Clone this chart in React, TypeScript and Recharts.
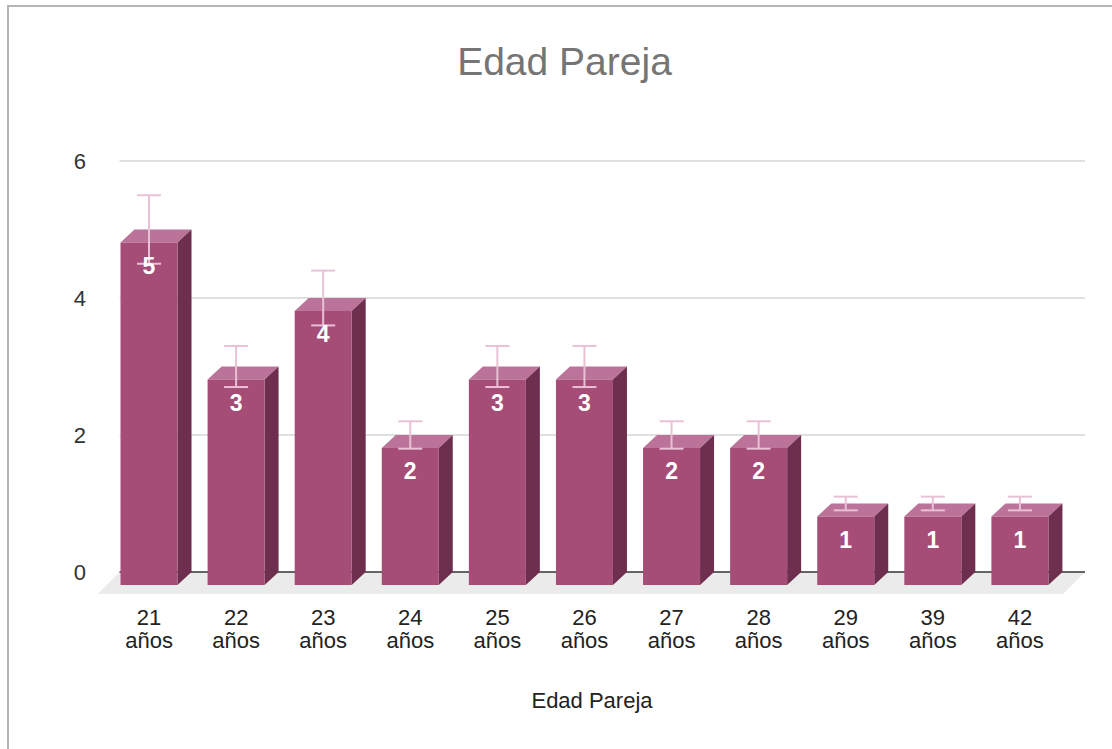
import { BarChart, Bar, XAxis, YAxis, CartesianGrid, LabelList } from "recharts";

const categories = [
  "21 años",
  "22 años",
  "23 años",
  "24 años",
  "25 años",
  "26 años",
  "27 años",
  "28 años",
  "29 años",
  "39 años",
  "42 años",
];
const counts = [5, 3, 4, 2, 3, 3, 2, 2, 1, 1, 1];
const yTicks = [0, 2, 4, 6];
const errorPercent = 10;

const data = categories.map((name, i) => ({ name, count: counts[i] }));

const FONT = "'Liberation Sans', Arial, sans-serif";
const DX = 14;
const DY = 13;
const FRONT = "#a54c77";
const TOP = "#bb7399";
const SIDE = "#6e2f4f";
const ERR = "#e9c1d5";

function Bar3D(props: any) {
  const { x, y, width: w, height: h, value } = props;
  if (w == null || h == null) return null;
  const v = Array.isArray(value) ? value[1] - value[0] : value;
  const unit = v ? h / v : 0;
  const err = (v * errorPercent) / 100;
  const cx = x + w / 2 - DX;
  const eTop = y - err * unit;
  const eBot = y + err * unit;
  return (
    <g>
      <polygon
        points={`${x - DX},${y + DY} ${x},${y} ${x + w},${y} ${x + w - DX},${y + DY}`}
        fill={TOP}
      />
      <polygon
        points={`${x + w - DX},${y + DY} ${x + w},${y} ${x + w},${y + h} ${x + w - DX},${y + h + DY}`}
        fill={SIDE}
      />
      <rect x={x - DX} y={y + DY} width={w} height={h} fill={FRONT} />
      <line x1={cx} x2={cx} y1={eTop} y2={eBot} stroke={ERR} strokeWidth={2} />
      <line x1={cx - 12} x2={cx + 12} y1={eTop} y2={eTop} stroke={ERR} strokeWidth={2} />
      <line x1={cx - 12} x2={cx + 12} y1={eBot} y2={eBot} stroke={ERR} strokeWidth={2} />
    </g>
  );
}

function ValueLabel(props: any) {
  const { x, y, width, value } = props;
  return (
    <text
      x={x + width / 2 - DX}
      y={y + DY + 31}
      textAnchor="middle"
      fill="#ffffff"
      fontFamily={FONT}
      fontWeight="bold"
      fontSize={23}
    >
      {value}
    </text>
  );
}

function XTick(props: any) {
  const { x, payload } = props;
  const parts = String(payload.value).split(" ");
  return (
    <text textAnchor="middle" fill="#222" fontFamily={FONT} fontSize={22}>
      <tspan x={x - DX} y={625}>
        {parts[0]}
      </tspan>
      <tspan x={x - DX} y={648}>
        {parts[1]}
      </tspan>
    </text>
  );
}

function YTick(props: any) {
  const { y, payload } = props;
  return (
    <text x={86} y={y + 8} textAnchor="end" fill="#333" fontFamily={FONT} fontSize={22}>
      {payload.value}
    </text>
  );
}

function GridLine(props: any) {
  const { x1, x2, y1, y, height } = props;
  const right = x2 + 7.5;
  if (Math.abs(y1 - (y + height)) < 1) {
    return (
      <g>
        <polygon
          points={`${x1},${y1} ${right},${y1} ${right - 22},${y1 + 22} ${x1 - 22},${y1 + 22}`}
          fill="#ebebeb"
        />
        <line x1={x1} x2={right} y1={y1} y2={y1} stroke="#333" strokeWidth={1.5} />
      </g>
    );
  }
  return <line x1={x1} x2={right} y1={y1} y2={y1} stroke="#d6d6d6" strokeWidth={1.5} />;
}

export default function App() {
  return (
    <div
      style={{
        position: "absolute",
        left: 0,
        top: 0,
        width: 1112,
        height: 749,
        background: "#fff",
        overflow: "hidden",
      }}
    >
      <div
        style={{
          position: "absolute",
          left: 7,
          top: 5,
          right: 0,
          bottom: 0,
          borderLeft: "2px solid #b4b4b4",
          borderTop: "2px solid #b4b4b4",
        }}
      />
      <div
        style={{
          position: "absolute",
          left: 0,
          width: 1129,
          top: 40,
          textAlign: "center",
          fontFamily: FONT,
          fontSize: 39,
          color: "#757575",
        }}
      >
        Edad Pareja
      </div>
      <div
        style={{
          position: "absolute",
          left: 0,
          width: 1184,
          top: 688,
          textAlign: "center",
          fontFamily: FONT,
          fontSize: 22,
          color: "#222",
        }}
      >
        Edad Pareja
      </div>
      <div style={{ position: "absolute", left: 0, top: 0 }}>
        <BarChart
          width={1112}
          height={749}
          data={data}
          margin={{ top: 161, right: 34.5, left: 0, bottom: 0 }}
        >
          <CartesianGrid vertical={false} horizontal={(p: any) => <GridLine key={p.key} {...p} />} />
          <XAxis
            dataKey="name"
            height={177}
            axisLine={false}
            tickLine={false}
            interval={0}
            tick={<XTick />}
          />
          <YAxis
            width={119.5}
            domain={[0, 6]}
            ticks={yTicks}
            axisLine={false}
            tickLine={false}
            tick={<YTick />}
          />
          <Bar dataKey="count" barSize={57} shape={<Bar3D />} isAnimationActive={false}>
            <LabelList dataKey="count" content={<ValueLabel />} />
          </Bar>
        </BarChart>
      </div>
    </div>
  );
}
